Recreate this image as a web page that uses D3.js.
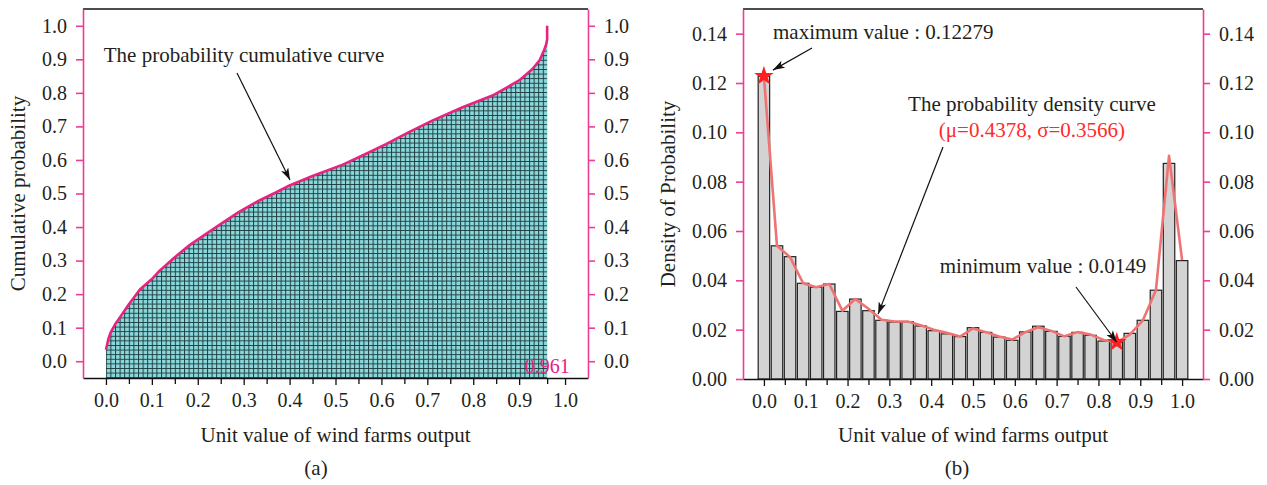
<!DOCTYPE html>
<html>
<head>
<meta charset="utf-8">
<script src="https://cdn.jsdelivr.net/npm/d3@7"></script>
<style>
body { margin: 0; background: #fff; }
svg text { font-family: "Liberation Serif", "Times New Roman", serif; fill: #231f20; }
</style>
</head>
<body>
<svg id="chart" width="1267" height="485"></svg>
<script>
// ---- data ----
// (a) cumulative probability curve
const cdfX = [0, 0.005, 0.01, 0.02, 0.03, 0.05, 0.074, 0.1, 0.117, 0.15, 0.183, 0.21, 0.248, 0.29, 0.335, 0.37, 0.4, 0.45, 0.516, 0.56, 0.61, 0.66, 0.712, 0.777, 0.842, 0.9, 0.929, 0.945, 0.954, 0.959, 0.961, 0.961];
const cdfY = [0.034, 0.065, 0.085, 0.11, 0.13, 0.17, 0.214, 0.245, 0.27, 0.31, 0.347, 0.372, 0.407, 0.445, 0.48, 0.503, 0.524, 0.552, 0.586, 0.614, 0.647, 0.683, 0.718, 0.757, 0.792, 0.837, 0.871, 0.898, 0.926, 0.945, 0.96, 1.0];
const cdfEnd = 0.961;

// (b) histogram bins and density curve
const binCenters = [0, 0.03125, 0.0625, 0.09375, 0.125, 0.15625, 0.1875, 0.21875, 0.25, 0.28125, 0.3125, 0.34375, 0.375, 0.40625, 0.4375, 0.46875, 0.5, 0.53125, 0.5625, 0.59375, 0.625, 0.65625, 0.6875, 0.71875, 0.75, 0.78125, 0.8125, 0.84375, 0.875, 0.90625, 0.9375, 0.96875, 1.0];
const binValues = [0.12279, 0.0540, 0.0496, 0.0388, 0.0372, 0.0385, 0.0274, 0.0324, 0.0277, 0.0238, 0.0231, 0.0232, 0.0215, 0.0196, 0.0183, 0.0172, 0.0208, 0.0189, 0.0170, 0.0157, 0.0191, 0.0214, 0.0193, 0.0173, 0.0189, 0.0177, 0.0154, 0.0149, 0.0185, 0.0238, 0.0360, 0.0874, 0.0480];
const densValues = [0.12279, 0.0540, 0.0494, 0.0388, 0.0372, 0.0385, 0.0277, 0.0324, 0.0285, 0.0240, 0.0233, 0.0233, 0.0218, 0.0200, 0.0187, 0.0172, 0.0205, 0.0190, 0.0172, 0.0160, 0.0190, 0.0210, 0.0195, 0.0173, 0.0190, 0.0180, 0.0158, 0.0149, 0.0180, 0.0238, 0.0360, 0.0905, 0.0482];
const maxPoint = [0, 0.12279];
const minPoint = [0.84375, 0.0149];

// tick labels
const xTicks = [0, 0.1, 0.2, 0.3, 0.4, 0.5, 0.6, 0.7, 0.8, 0.9, 1.0];
const xMinorA = [0.05, 0.15, 0.25, 0.35, 0.45, 0.55, 0.65, 0.75, 0.85, 0.961];
const xMinorB = [0.05, 0.15, 0.25, 0.35, 0.45, 0.55, 0.65, 0.75, 0.85, 0.95];
const yTicksA = [0, 0.1, 0.2, 0.3, 0.4, 0.5, 0.6, 0.7, 0.8, 0.9, 1.0];
const yTicksB = [0, 0.02, 0.04, 0.06, 0.08, 0.10, 0.12, 0.14];

const pink = "#ee3d96";
const tickFont = "20px";
const textFont = "21px";

const svg = d3.select("#chart");
const defs = svg.append("defs");

// crosshatch fill for the cumulative area
const pat = defs.append("pattern")
    .attr("id", "grid")
    .attr("patternUnits", "userSpaceOnUse")
    .attr("width", 4.6)
    .attr("height", 4.6);
pat.append("rect").attr("width", 4.6).attr("height", 4.6).attr("fill", "#8bd7da");
pat.append("path").attr("d", "M0,0.5H4.6M0.5,0V4.6")
    .attr("stroke", "#1e3f42").attr("stroke-width", 1);

defs.append("marker")
    .attr("id", "arrow")
    .attr("markerUnits", "userSpaceOnUse")
    .attr("viewBox", "0 0 12 8")
    .attr("refX", 12).attr("refY", 4)
    .attr("markerWidth", 12).attr("markerHeight", 8)
    .attr("orient", "auto")
    .append("path").attr("d", "M0,0L12,4L0,8L3,4z").attr("fill", "#111");

// draw one frame: bottom axis + left/right pink axes + top border
function drawFrame(g, x, y, yTicks, yFmt, minor) {
    const [x0, x1] = x.range();
    const [yb, yt] = y.range();

    // top border
    g.append("line").attr("x1", x0).attr("x2", x1).attr("y1", yt).attr("y2", yt)
        .attr("stroke", "#111").attr("stroke-width", 1.3);

    const bottom = g.append("g").attr("transform", `translate(0,${yb})`)
        .call(d3.axisBottom(x).tickValues(xTicks).tickSize(7).tickSizeOuter(0).tickPadding(8)
            .tickFormat(d3.format(".1f")));
    bottom.select(".domain").attr("stroke", "#111").attr("stroke-width", 1.6);
    bottom.selectAll(".tick line").attr("stroke", "#111").attr("stroke-width", 1.3);
    bottom.selectAll("text").style("font-size", tickFont);

    const minorG = g.append("g").attr("transform", `translate(0,${yb})`)
        .call(d3.axisBottom(x).tickValues(minor).tickSize(6).tickSizeOuter(0).tickFormat(""));
    minorG.select(".domain").remove();
    minorG.selectAll(".tick line").attr("stroke", "#111").attr("stroke-width", 1.3);

    const left = g.append("g").attr("transform", `translate(${x0},0)`)
        .call(d3.axisLeft(y).tickValues(yTicks).tickSize(7).tickSizeOuter(0).tickPadding(9)
            .tickFormat(d3.format(yFmt)));
    const right = g.append("g").attr("transform", `translate(${x1},0)`)
        .call(d3.axisRight(y).tickValues(yTicks).tickSize(7).tickSizeOuter(0).tickPadding(9)
            .tickFormat(d3.format(yFmt)));
    [left, right].forEach(a => {
        a.select(".domain").attr("stroke", pink).attr("stroke-width", 1.6);
        a.selectAll(".tick line").attr("stroke", pink).attr("stroke-width", 1.6);
        a.selectAll("text").style("font-size", tickFont);
    });
}

function arrow(g, p0, p1) {
    g.append("line")
        .attr("x1", p0[0]).attr("y1", p0[1]).attr("x2", p1[0]).attr("y2", p1[1])
        .attr("stroke", "#111").attr("stroke-width", 1.2)
        .attr("marker-end", "url(#arrow)");
}

// ================= (a) =================
const xA = d3.scaleLinear().domain([-0.05, 1.05]).range([83, 588]);
const yA = d3.scaleLinear().domain([-0.05, 1.05]).range([378, 9]);
const gA = svg.append("g");

const cdfPts = cdfX.map((v, i) => [v, cdfY[i]]);
gA.append("path")
    .datum(cdfPts.filter(d => d[0] <= cdfEnd))
    .attr("fill", "url(#grid)")
    .attr("d", d3.area().x(d => xA(d[0])).y0(yA(-0.05)).y1(d => yA(d[1])));

gA.append("path")
    .datum(cdfPts)
    .attr("fill", "none")
    .attr("stroke", "#e6237f")
    .attr("stroke-width", 2.6)
    .attr("stroke-linejoin", "round")
    .attr("d", d3.line().x(d => xA(d[0])).y(d => yA(d[1])));

drawFrame(gA, xA, yA, yTicksA, ".1f", xMinorA);

gA.append("text").attr("x", xA(cdfEnd)).attr("y", yA(-0.013)).attr("dy", "0.35em")
    .attr("text-anchor", "middle").style("font-size", tickFont).style("fill", "#e6237f")
    .text(cdfEnd.toString());

gA.append("text").attr("x", 244).attr("y", 55).attr("dy", "0.35em")
    .attr("text-anchor", "middle").style("font-size", textFont)
    .text("The probability cumulative curve");
arrow(gA, [237, 73], [290, 180]);

gA.append("text").attr("transform", `translate(18,${(9 + 378) / 2}) rotate(-90)`)
    .attr("dy", "0.35em").attr("text-anchor", "middle").style("font-size", textFont)
    .text("Cumulative probability");
gA.append("text").attr("x", (83 + 588) / 2).attr("y", 435).attr("dy", "0.35em")
    .attr("text-anchor", "middle").style("font-size", textFont)
    .text("Unit value of wind farms output");
gA.append("text").attr("x", 316).attr("y", 468).attr("dy", "0.35em")
    .attr("text-anchor", "middle").style("font-size", textFont).text("(a)");

// ================= (b) =================
const xB = d3.scaleLinear().domain([-0.05, 1.05]).range([743, 1203]);
const yB = d3.scaleLinear().domain([0, 0.15]).range([379, 9]);
const gB = svg.append("g");

const binW = xB(binCenters[1]) - xB(binCenters[0]);
gB.append("g").selectAll("rect")
    .data(binCenters)
    .join("rect")
    .attr("x", d => xB(d) - binW / 2 + 0.8)
    .attr("width", binW - 1.6)
    .attr("y", (d, i) => yB(binValues[i]))
    .attr("height", (d, i) => yB(0) - yB(binValues[i]))
    .attr("fill", "#d3d3d3")
    .attr("stroke", "#222")
    .attr("stroke-width", 1.2);

gB.append("path")
    .datum(binCenters.map((v, i) => [v, densValues[i]]))
    .attr("fill", "none")
    .attr("stroke", "#f07373")
    .attr("stroke-width", 2.6)
    .attr("stroke-linejoin", "round")
    .attr("d", d3.line().x(d => xB(d[0])).y(d => yB(d[1])));

drawFrame(gB, xB, yB, yTicksB, ".2f", xMinorB);

gB.selectAll("path.star")
    .data([maxPoint, minPoint])
    .join("path")
    .attr("class", "star")
    .attr("transform", d => `translate(${xB(d[0])},${yB(d[1])})`)
    .attr("d", d3.symbol(d3.symbolStar).size(120))
    .attr("fill", "#ff1f1f");

gB.append("text").attr("x", 773).attr("y", 32).attr("dy", "0.35em")
    .style("font-size", textFont).text("maximum value : 0.12279");
arrow(gB, [812, 48], [xB(maxPoint[0]) + 9, yB(maxPoint[1]) - 6]);

gB.append("text").attr("x", 1032).attr("y", 104).attr("dy", "0.35em")
    .attr("text-anchor", "middle").style("font-size", textFont)
    .text("The probability density curve");
gB.append("text").attr("x", 1032).attr("y", 130).attr("dy", "0.35em")
    .attr("text-anchor", "middle").style("font-size", textFont).style("fill", "#ff2a2a")
    .text("(μ=0.4378, σ=0.3566)");
arrow(gB, [943, 147], [xB(0.273), yB(0.0263)]);

gB.append("text").attr("x", 1043).attr("y", 266).attr("dy", "0.35em")
    .attr("text-anchor", "middle").style("font-size", textFont)
    .text("minimum value : 0.0149");
arrow(gB, [1076, 287], [xB(minPoint[0]), yB(minPoint[1])]);

gB.append("text").attr("transform", `translate(668,${(9 + 379) / 2}) rotate(-90)`)
    .attr("dy", "0.35em").attr("text-anchor", "middle").style("font-size", textFont)
    .text("Density of Probability");
gB.append("text").attr("x", (743 + 1203) / 2).attr("y", 435).attr("dy", "0.35em")
    .attr("text-anchor", "middle").style("font-size", textFont)
    .text("Unit value of wind farms output");
gB.append("text").attr("x", 957).attr("y", 468).attr("dy", "0.35em")
    .attr("text-anchor", "middle").style("font-size", textFont).text("(b)");
</script>
</body>
</html>
